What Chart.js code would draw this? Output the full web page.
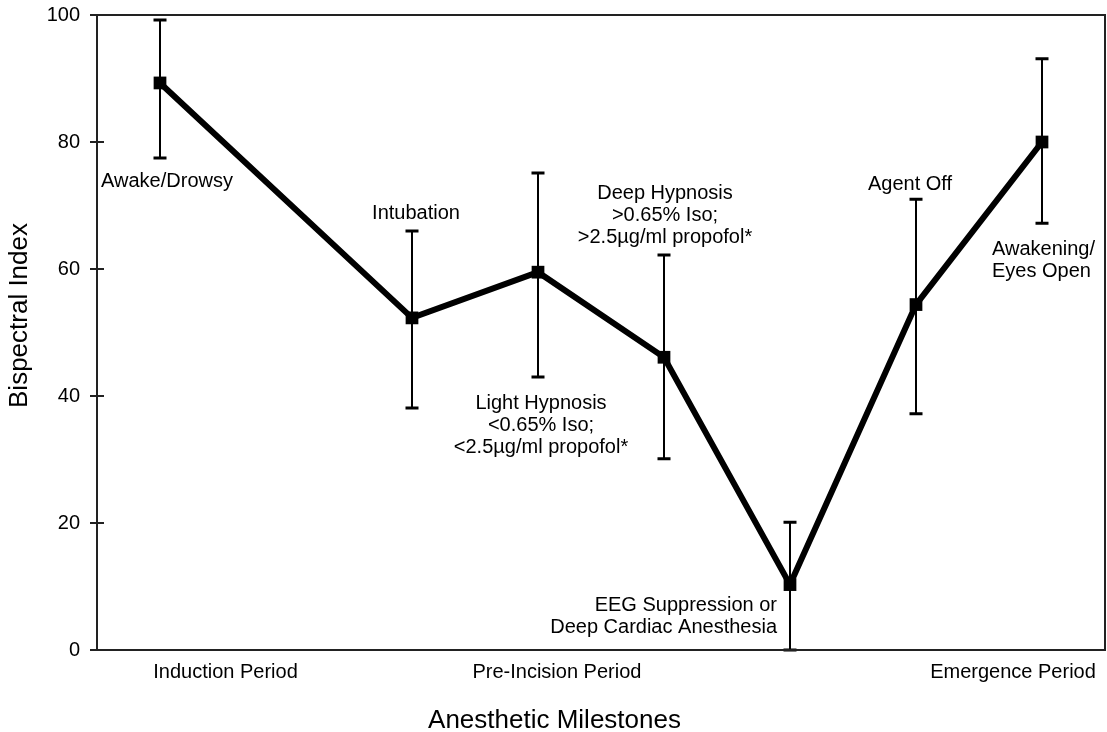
<!DOCTYPE html>
<html>
<head>
<meta charset="utf-8">
<script src="https://cdn.jsdelivr.net/npm/chart.js@4/dist/chart.umd.min.js"></script>
<style>
    body { margin: 0; background: #fff; }
    canvas { display: block; }
</style>
</head>
<body>
<canvas id="bis-chart" width="1107" height="732"></canvas>
<script>
// data
const milestonePos = [0.5, 2.5, 3.5, 4.5, 5.5, 6.5, 7.5];
const bisMean = [89.3, 52.3, 59.5, 46.1, 10.3, 54.4, 80.0];
const bisUpper = [99.2, 66.0, 75.1, 62.2, 20.1, 71.0, 93.1];
const bisLower = [77.5, 38.1, 43.0, 30.1, 0, 37.2, 67.2];
const milestoneLabels = [
    ["Awake/Drowsy"],
    ["Intubation"],
    ["Light Hypnosis", "<0.65% Iso;", "<2.5µg/ml propofol*"],
    ["Deep Hypnosis", ">0.65% Iso;", ">2.5µg/ml propofol*"],
    ["EEG Suppression or", "Deep Cardiac Anesthesia"],
    ["Agent Off"],
    ["Awakening/", "Eyes Open"]
];
const periodLabels = ["Induction Period", "Pre-Incision Period", "Emergence Period"];
const periodPos = [1.02, 3.65, 7.27];
const yTickValues = [0, 20, 40, 60, 80, 100];

// where each milestone label sits relative to its point (px offsets, alignment)
const labelLayout = [
    { dx: 7, dy: 104, align: 'center' },
    { dx: 4, dy: -99, align: 'center' },
    { dx: 3, dy: 137, align: 'center' },
    { dx: 1, dy: -158, align: 'center' },
    { dx: -13, dy: 26, align: 'right' },
    { dx: -6, dy: -115, align: 'center' },
    { dx: -50, dy: 113, align: 'left' }
];

const FONT = "'Liberation Sans', Arial, Helvetica, sans-serif";
Chart.defaults.font.family = FONT;
Chart.defaults.font.size = 20;
Chart.defaults.color = '#000';

const errorBars = {
    id: 'errorBars',
    beforeDatasetsDraw(chart) {
        const ctx = chart.ctx;
        const xs = chart.scales.x, ys = chart.scales.y;
        ctx.save();
        ctx.strokeStyle = '#000';
        milestonePos.forEach((pos, i) => {
            const px = xs.getPixelForValue(pos);
            const top = ys.getPixelForValue(bisUpper[i]);
            const bot = ys.getPixelForValue(bisLower[i]);
            ctx.lineWidth = 2;
            ctx.beginPath();
            ctx.moveTo(px, top);
            ctx.lineTo(px, bot);
            ctx.stroke();
            ctx.lineWidth = 3;
            ctx.beginPath();
            ctx.moveTo(px - 6.5, top);
            ctx.lineTo(px + 6.5, top);
            ctx.moveTo(px - 6.5, bot);
            ctx.lineTo(px + 6.5, bot);
            ctx.stroke();
        });
        ctx.restore();
    }
};

const frameAndText = {
    id: 'frameAndText',
    afterDraw(chart) {
        const ctx = chart.ctx;
        const area = chart.chartArea;
        const xs = chart.scales.x, ys = chart.scales.y;
        ctx.save();

        // plot frame
        ctx.strokeStyle = '#222';
        ctx.lineWidth = 2;
        ctx.strokeRect(area.left, area.top, area.right - area.left, area.bottom - area.top);

        // y tick marks crossing the axis
        yTickValues.forEach(v => {
            const py = ys.getPixelForValue(v);
            ctx.beginPath();
            ctx.moveTo(area.left - 7, py);
            ctx.lineTo(area.left + 7, py);
            ctx.stroke();
        });

        // milestone labels
        ctx.fillStyle = '#000';
        ctx.font = '20px ' + FONT;
        ctx.textBaseline = 'alphabetic';
        milestoneLabels.forEach((lines, i) => {
            const px = xs.getPixelForValue(milestonePos[i]);
            const py = ys.getPixelForValue(bisMean[i]);
            const lay = labelLayout[i];
            ctx.textAlign = lay.align;
            lines.forEach((t, j) => {
                ctx.fillText(t, px + lay.dx, py + lay.dy + j * 22);
            });
        });

        // axis titles
        ctx.font = '26px ' + FONT;
        ctx.textAlign = 'center';
        ctx.fillText('Anesthetic Milestones', chart.width / 2 + 1, area.bottom + 78);
        ctx.translate(27, (area.top + area.bottom) / 2 - 17);
        ctx.rotate(-Math.PI / 2);
        ctx.fillText('Bispectral Index', 0, 0);
        ctx.restore();
    }
};

const bisCtx = document.getElementById("bis-chart").getContext("2d");

let bisChart = new Chart(bisCtx, {
    type: 'line',
    data: {
        datasets: [{
            data: milestonePos.map((x, i) => ({ x: x, y: bisMean[i] })),
            borderColor: '#000',
            borderWidth: 6,
            backgroundColor: '#000',
            pointStyle: 'rect',
            pointRadius: 9,
            pointBorderWidth: 0,
            pointBackgroundColor: '#000',
            tension: 0,
            fill: false
        }]
    },
    options: {
        responsive: false,
        animation: false,
        layout: {
            // the point radius would otherwise add 9px on the right
            autoPadding: false,
            padding: { top: 15, right: 2, left: 0, bottom: 0 }
        },
        scales: {
            x: {
                type: 'linear',
                min: 0,
                max: 8,
                grid: { display: false, drawTicks: false },
                border: { display: false },
                ticks: {
                    padding: 10,
                    maxRotation: 0,
                    callback: (v, i) => periodLabels[i]
                },
                afterBuildTicks: scale => {
                    scale.ticks = periodPos.map(v => ({ value: v }));
                },
                afterFit: scale => {
                    scale.height = 82;
                    scale.paddingLeft = 0;
                    scale.paddingRight = 0;
                }
            },
            y: {
                min: 0,
                max: 100,
                grid: { display: false, drawTicks: false },
                border: { display: false },
                ticks: {
                    stepSize: 20,
                    padding: 17
                },
                afterFit: scale => {
                    scale.width = 97;
                    scale.paddingTop = 0;
                    scale.paddingBottom = 0;
                }
            }
        },
        plugins: {
            legend: { display: false },
            tooltip: { enabled: false }
        }
    },
    plugins: [errorBars, frameAndText]
});
</script>
</body>
</html>
